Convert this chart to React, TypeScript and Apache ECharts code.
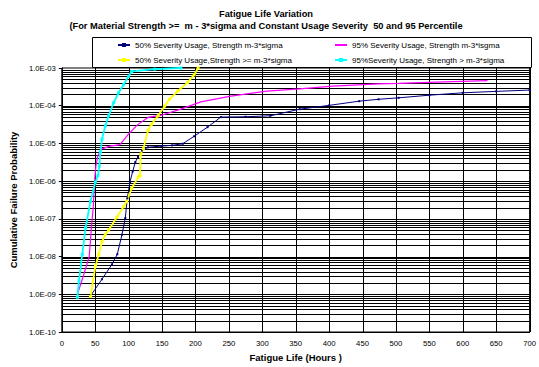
import React, { useEffect, useRef } from 'react';
import * as echarts from 'echarts';

const titleText = 'Fatigue Life Variation';
const subtitleText = '(For Material Strength >=  m - 3*sigma and Constant Usage Severity  50 and 95 Percentile';
const xAxisName = 'Fatigue Life (Hours )';
const yAxisName = 'Cumulative Failure Probability';

const xTicks = [0, 50, 100, 150, 200, 250, 300, 350, 400, 450, 500, 550, 600, 650, 700];
const yTickLabels = ['1.0E-10', '1.0E-09', '1.0E-08', '1.0E-07', '1.0E-06', '1.0E-05', '1.0E-04', '1.0E-03'];
const gridMultipliers = [1, 2, 3, 4, 5, 6, 7, 8, 9];
const gridDecades = [-10, -9, -8, -7, -6, -5, -4];

const s1Name = '50% Severity Usage, Strength m-3*sigma';
const s1X = [43, 60, 75, 83, 90, 95, 98, 102, 106, 110, 114, 120, 129, 149, 165, 181, 198, 218, 238, 275, 312, 356, 400, 445, 474, 504, 550, 600, 650, 700];
const s1Y = [9.1e-10, 2.5e-9, 6.2e-9, 1.15e-8, 3.8e-8, 1.05e-7, 3.5e-7, 9.5e-7, 1.8e-6, 3.2e-6, 4.4e-6, 6.5e-6, 7.9e-6, 8.5e-6, 8.9e-6, 9.8e-6, 1.55e-5, 2.7e-5, 5.0e-5, 5.1e-5, 5.4e-5, 8.1e-5, 1.02e-4, 1.32e-4, 1.48e-4, 1.62e-4, 1.9e-4, 2.2e-4, 2.4e-4, 2.6e-4];

const s2Name = '95% Severity Usage, Strength m-3*isgma';
const s2X = [23.3, 33, 41, 44.4, 47, 49, 51, 54, 60, 72, 87, 100, 114, 129, 149, 178, 208, 253, 307, 356, 405, 474, 504, 560, 637];
const s2Y = [1.0e-9, 3.4e-9, 1.0e-8, 6.3e-8, 2.0e-7, 1.0e-6, 2.5e-6, 4.8e-6, 7.2e-6, 8.5e-6, 9.3e-6, 1.8e-5, 3.2e-5, 4.9e-5, 5.6e-5, 8.1e-5, 1.26e-4, 1.8e-4, 2.45e-4, 2.8e-4, 3.3e-4, 3.8e-4, 3.9e-4, 4.2e-4, 4.6e-4];

const s3Name = '50% Severity Usage,Strength >= m-3*sigma';
const s3X = [43, 50.3, 55.3, 60.2, 65, 70, 82.4, 92.3, 97.2, 104.6, 114.5, 117, 118, 122, 129, 134, 144, 154, 161, 173.6, 188, 198, 204];
const s3Y = [8.7e-10, 5.6e-9, 1.15e-8, 2.5e-8, 3.8e-8, 5.1e-8, 1.1e-7, 2.1e-7, 2.9e-7, 6.5e-7, 1.3e-6, 1.4e-6, 5.2e-6, 7.2e-6, 2.2e-5, 3.2e-5, 5.4e-5, 9.8e-5, 1.48e-4, 2.45e-4, 4.1e-4, 6.6e-4, 1.0e-3];

const s4Name = '95%Severity Usage, Strength > m-3*sigma';
const s4X = [23.2, 25.7, 30.6, 35.5, 42.9, 50.3, 54, 56, 57.7, 60.2, 65.1, 70.1, 77.5, 84.9, 92.3, 99.7, 104.6, 139, 178];
const s4Y = [8.3e-10, 2.3e-9, 1.15e-8, 5.8e-8, 2.9e-7, 9.5e-7, 1.4e-6, 2.5e-6, 5.9e-6, 1.3e-5, 2.95e-5, 5.4e-5, 1.2e-4, 2.2e-4, 3.6e-4, 6.0e-4, 8.1e-4, 9.3e-4, 1.0e-3];

const zip = (xs: number[], ys: number[]) => xs.map((x, i) => [x, ys[i]]);

const FONT = '"Liberation Sans", Arial, sans-serif';
const X_MIN = 0;
const X_MAX = 700;
const Y_MIN = 1e-10;
const Y_MAX = 1e-3;

export default function App() {
  const ref = useRef<HTMLDivElement>(null);
  useEffect(() => {
    if (!ref.current) return;
    const chart = echarts.init(ref.current, null, { renderer: 'svg' });
    const hGrid: number[][] = [];
    gridDecades.forEach((e) => gridMultipliers.forEach((m) => hGrid.push([X_MIN, m * Math.pow(10, e)])));
    const vGrid: number[][] = xTicks.map((x) => [x, Y_MIN]);
    const legendBase = {
      orient: 'horizontal',
      padding: 0,
      itemWidth: 12,
      itemHeight: 5,
      textStyle: { fontSize: 8, fontFamily: FONT, color: '#000' },
      selectedMode: false,
    };
    const option: any = {
      animation: false,
      backgroundColor: '#fff',
      textStyle: { fontFamily: FONT },
      graphic: [
        { type: 'rect', z: 0, shape: { x: 92.5, y: 37.5, width: 439, height: 30 }, style: { fill: '#fff', stroke: '#000', lineWidth: 1 } },
        { type: 'text', z: 5, x: 266, y: 14, style: { text: titleText, align: 'center', verticalAlign: 'middle', fill: '#000', font: `bold 9.3px ${FONT}` } },
        { type: 'text', z: 5, x: 266, y: 26, style: { text: subtitleText, align: 'center', verticalAlign: 'middle', fill: '#000', font: `bold 9.3px ${FONT}` } },
      ],
      legend: [
        { ...legendBase, data: [s1Name], left: 117, top: 41 },
        { ...legendBase, data: [{ name: s2Name, itemStyle: { opacity: 0 } }], left: 334, top: 41 },
        { ...legendBase, data: [s3Name], left: 117, top: 56 },
        { ...legendBase, data: [s4Name], left: 334, top: 56 },
      ],
      grid: { left: 59, right: 6, top: 68, bottom: 32, show: true, borderColor: '#000', borderWidth: 1, containLabel: false },
      xAxis: {
        type: 'value',
        min: X_MIN,
        max: X_MAX,
        interval: 50,
        name: xAxisName,
        nameLocation: 'middle',
        nameGap: 20,
        nameTextStyle: { fontSize: 9.5, fontWeight: 'bold', color: '#000', fontFamily: FONT },
        axisLine: { show: true, lineStyle: { color: '#000', width: 1 } },
        axisTick: { show: false },
        axisLabel: { fontSize: 7.7, color: '#000', margin: 7, fontFamily: FONT },
        splitLine: { show: false },
      },
      yAxis: {
        type: 'log',
        logBase: 10,
        min: Y_MIN,
        max: Y_MAX,
        splitNumber: 7,
        name: yAxisName,
        nameLocation: 'middle',
        nameGap: 36,
        nameTextStyle: { fontSize: 9.5, fontWeight: 'bold', color: '#000', fontFamily: FONT },
        axisLine: { show: true, lineStyle: { color: '#000', width: 1 } },
        axisTick: { show: true, length: 3, lineStyle: { color: '#000' } },
        axisLabel: {
          fontSize: 7.7,
          color: '#000',
          margin: 6,
          fontFamily: FONT,
          formatter: (v: number) => yTickLabels[Math.round(Math.log10(v)) + 10] ?? '',
        },
        splitLine: { show: false },
      },
      series: [
        {
          name: 'h-grid',
          type: 'custom',
          z: 1,
          silent: true,
          data: hGrid,
          renderItem: (params: any, api: any) => {
            const v = api.value(1);
            const p1 = api.coord([X_MIN, v]);
            const p2 = api.coord([X_MAX, v]);
            const y = Math.round(p1[1]) + 0.5;
            return { type: 'line', shape: { x1: p1[0], y1: y, x2: p2[0], y2: y }, style: { stroke: '#000', lineWidth: 1 } };
          },
        },
        {
          name: 'v-grid',
          type: 'custom',
          z: 1,
          silent: true,
          data: vGrid,
          renderItem: (params: any, api: any) => {
            const v = api.value(0);
            const p1 = api.coord([v, Y_MIN]);
            const p2 = api.coord([v, Y_MAX]);
            const x = Math.round(p1[0]) + 0.5;
            return { type: 'line', shape: { x1: x, y1: p1[1], x2: x, y2: p2[1] }, style: { stroke: '#000', lineWidth: 1 } };
          },
        },
        {
          name: s1Name,
          type: 'line',
          z: 3,
          data: zip(s1X, s1Y),
          color: '#000080',
          lineStyle: { width: 1, color: '#000080' },
          symbol: 'rect',
          symbolSize: 2,
          itemStyle: { color: '#000080' },
        },
        {
          name: s2Name,
          type: 'line',
          z: 3,
          data: zip(s2X, s2Y),
          color: '#FF00FF',
          lineStyle: { width: 1.2, color: '#FF00FF' },
          symbol: 'none',
          showSymbol: false,
          itemStyle: { color: '#FF00FF' },
        },
        {
          name: s3Name,
          type: 'line',
          z: 3,
          data: zip(s3X, s3Y),
          color: '#FFFF00',
          lineStyle: { width: 1.8, color: '#FFFF00' },
          symbol: 'rect',
          symbolSize: 3,
          itemStyle: { color: '#FFFF00' },
        },
        {
          name: s4Name,
          type: 'line',
          z: 3,
          data: zip(s4X, s4Y),
          color: '#00FFFF',
          lineStyle: { width: 1.8, color: '#00FFFF' },
          symbol: 'rect',
          symbolSize: 3,
          itemStyle: { color: '#00FFFF' },
        },
      ],
    };
    chart.setOption(option);
    return () => chart.dispose();
  }, []);
  return <div ref={ref} style={{ width: 539, height: 367, position: 'absolute', left: 0, top: 0 }} />;
}
